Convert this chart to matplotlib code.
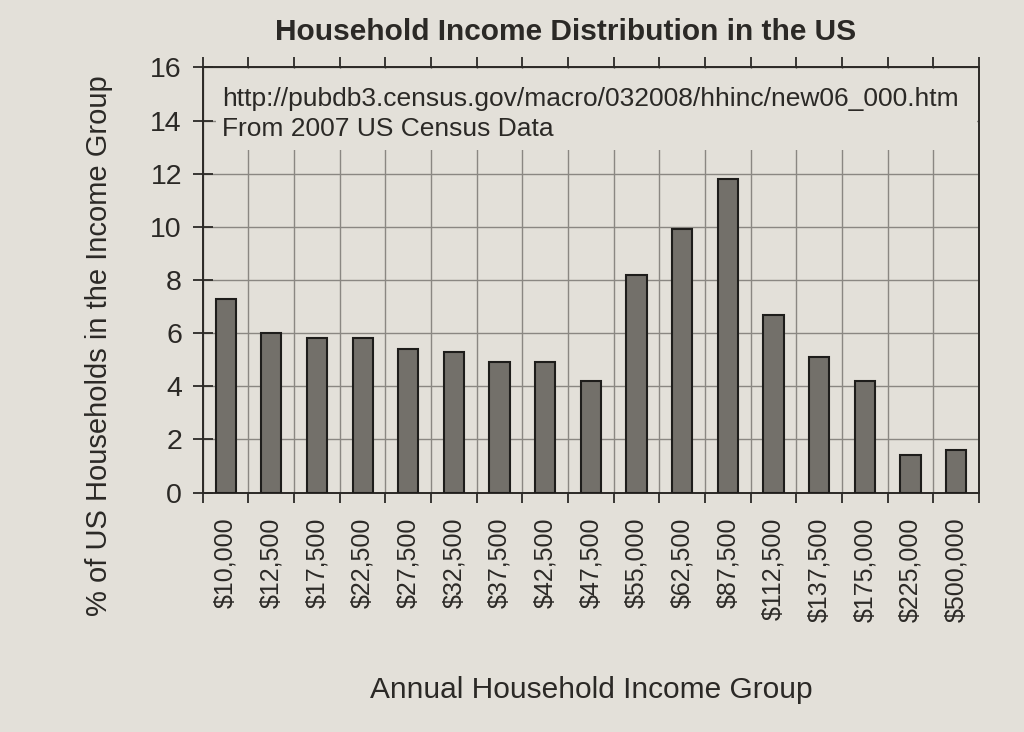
import matplotlib.pyplot as plt
from matplotlib.patches import Rectangle

plt.rcParams['font.family'] = ['Liberation Sans', 'DejaVu Sans']

groups = ['$10,000', '$12,500', '$17,500', '$22,500', '$27,500', '$32,500',
          '$37,500', '$42,500', '$47,500', '$55,000', '$62,500', '$87,500',
          '$112,500', '$137,500', '$175,000', '$225,000', '$500,000']
percent = [7.3, 6.0, 5.8, 5.8, 5.4, 5.3, 4.9, 4.9, 4.2, 8.2, 9.9, 11.8,
           6.7, 5.1, 4.2, 1.4, 1.6]
y_ticks = [0, 2, 4, 6, 8, 10, 12, 14, 16]

paper = '#e3e0d9'
ink = '#2b2926'

fig = plt.figure(figsize=(10.24, 7.32), dpi=100, facecolor=paper)
ax = fig.add_axes([0.198, 0.327, 0.758, 0.581])
ax.set_facecolor(paper)

x = range(len(groups))
ax.bar(x, percent, width=0.44, color='#73706a', edgecolor='#1e1d1b',
       linewidth=1.5, zorder=3)

ax.set_xlim(-0.5, len(groups) - 0.5)
ax.set_ylim(0, 16)
ax.set_yticks(y_ticks)
ax.set_xticks([i - 0.5 for i in range(len(groups) + 1)])
ax.set_xticklabels([])
ax.set_xticks(list(x), minor=True)
ax.set_xticklabels(groups, minor=True, rotation=90, fontsize=18, color=ink)
ax.tick_params(axis='x', which='minor', length=0, pad=18)
ax.tick_params(axis='x', which='major', direction='out', length=7,
               width=1.3, color=ink, top=True)
ax.tick_params(axis='y', direction='inout', length=14, width=1.3,
               color=ink, labelsize=20.5, labelcolor=ink, pad=8)

ax.grid(True, which='major', color='#8a8782', linewidth=1.0)
for s in ax.spines.values():
    s.set_color(ink)
    s.set_linewidth(1.4)

# box behind the source note hides the grid there
ax.add_patch(Rectangle((0.017, 0.805), 0.981, 0.19, transform=ax.transAxes,
                       facecolor=paper, edgecolor='none', zorder=2))
ax.text(0.025, 0.925, 'http://pubdb3.census.gov/macro/032008/hhinc/new06_000.htm',
        transform=ax.transAxes, fontsize=19, color=ink, va='center', zorder=4)
ax.text(0.025, 0.855, 'From 2007 US Census Data', transform=ax.transAxes,
        fontsize=19, color=ink, va='center', zorder=4)

ax.set_title('Household Income Distribution in the US', fontsize=21.5,
             fontweight='bold', color=ink, x=0.467, pad=20)
ax.set_ylabel('% of US Households in the Income Group', fontsize=21,
              color=ink)
ax.yaxis.set_label_coords(-0.115, 0.345)
ax.set_xlabel('Annual Household Income Group', fontsize=21.5, color=ink)
ax.xaxis.set_label_coords(0.5, -0.432)

fig.savefig('out.png', dpi=100, facecolor=paper)
